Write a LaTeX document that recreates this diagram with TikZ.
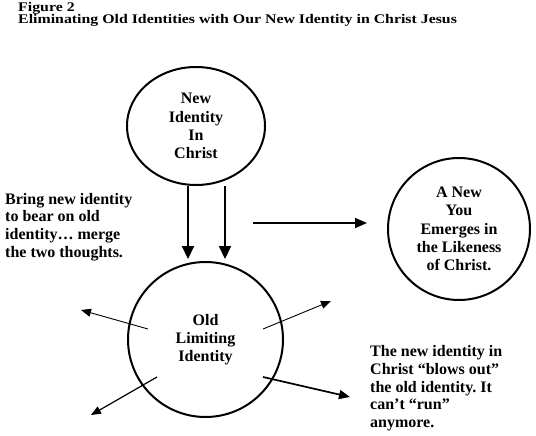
\documentclass[tikz,border=0pt]{standalone}
\usepackage{fontspec}
\setmainfont{Liberation Serif}
\usetikzlibrary{arrows.meta,shapes.geometric}
\frenchspacing
\begin{document}
\begin{tikzpicture}[x=1pt,y=-1pt,
  titlefont/.style={font=\fontsize{13.2}{13}\selectfont\bfseries, inner sep=0pt},
  sidetxt/.style={font=\fontsize{16}{17.6}\selectfont\bfseries, align=left, inner sep=0pt},
  ring/.style={draw, line width=2pt, inner sep=0pt, align=center,
               font=\fontsize{16}{18.3}\selectfont\bfseries},
  bigarrow/.style={line width=2.2pt, -{Triangle[length=13pt,width=12pt]}},
  medarrow/.style={line width=1.6pt, -{Triangle[length=12pt,width=10pt]}},
  thinarrow/.style={line width=0.9pt, -{Triangle[length=10pt,width=8pt]}},
  boldarrow/.style={line width=1.7pt, -{Triangle[length=11pt,width=9pt]}}]
\useasboundingbox (0,0) rectangle (536,436);
\fill[white] (0,0) rectangle (536,436);

% title
\begin{scope}[shift={(18,11.7)}, xscale=1.2]
  \node[titlefont, anchor=base west, transform shape] (fig) at (0,0) {Figure 2};
\end{scope}
\begin{scope}[shift={(18,23.3)}, xscale=1.2]
  \node[titlefont, anchor=base west, transform shape] (title) at (0,0)
    {Eliminating Old Identities with Our New Identity in Christ Jesus};
\end{scope}

% circles
\node[ring, ellipse, minimum width=138pt, minimum height=118pt] (nic) at (196,126)
  {New\\Identity\\In\\Christ};
\node[ring, circle, minimum size=142pt] (you) at (459,229)
  {A New\\You\\Emerges in\\the Likeness\\of Christ.};
\node[ring, circle, minimum size=155pt] (old) at (205.5,339.5)
  {Old\\Limiting\\Identity};

% side texts
\node[sidetxt, anchor=north west] (bring) at (5,193)
  {Bring new identity\\to bear on old\\identity\ldots\ merge\\the two thoughts.};
\node[sidetxt, anchor=north west] (blow) at (370,345.5)
  {The new identity in\\Christ \textquotedblleft blows out\textquotedblright\\the old identity. It\\can\textquoteright t \textquotedblleft run\textquotedblright\\anymore.};

% merge arrows
\coordinate (a1) at (188,0);
\coordinate (a2) at (225,0);
\draw[bigarrow, shorten >=2pt] (nic.south -| a1) -- (old.north -| a1);
\draw[bigarrow, shorten >=2pt] (nic.south -| a2) -- (old.north -| a2);

% emerge arrow
\coordinate (h1) at (253,223);
\draw[medarrow, shorten >=20pt] (h1) -- (h1 -| you.west);

% blow-out arrows
\coordinate (s1) at (148,329); \coordinate (e1) at (81,310);
\coordinate (s2) at (157,377); \coordinate (e2) at (91,415);
\coordinate (s3) at (263,329); \coordinate (e3) at (331,301);
\coordinate (s4) at (263,377); \coordinate (e4) at (350,397);
\draw[thinarrow] (s1) -- (e1);
\draw[thinarrow, line width=1.2pt] (s2) -- (e2);
\draw[thinarrow] (s3) -- (e3);
\draw[boldarrow] (s4) -- (e4);
\end{tikzpicture}
\end{document}
